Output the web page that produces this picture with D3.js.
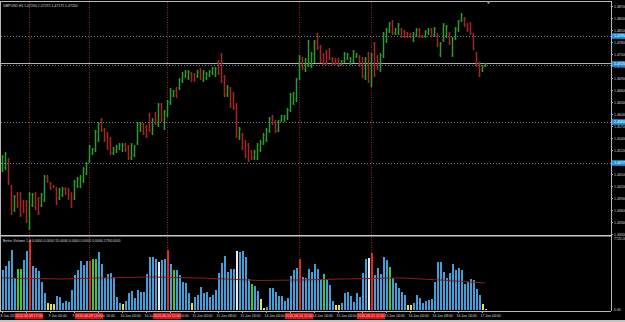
<!DOCTYPE html>
<html>
<head>
<meta charset="utf-8">
<script src="https://cdn.jsdelivr.net/npm/d3@7"></script>
<style>
body{margin:0;background:#000;overflow:hidden}
svg{display:block}
text{font-family:"Liberation Sans",Arial,sans-serif}
</style>
</head>
<body>
<div id="chart"></div>
<script>
const symbolTitle = "GBPUSD,H1  1.47200 1.47275 1.47175 1.47250";
const volumeTitle = "Better Volume 1.4 0.0000 0.0000 55.0000 0.0000 0.0000 0.0000 1794.0000";

const open = [
  1.446,1.4465,1.4485,1.44175,1.436,1.44,1.44,1.438,1.438,1.4315,
  1.43725,1.44,1.43875,1.43725,1.4385,1.44425,1.4425,1.442,1.44125,1.439,
  1.43975,1.44125,1.441,1.44,1.439,1.442,1.442,1.44325,1.44525,1.44825,
  1.45,1.451,1.4535,1.4585,1.456,1.455,1.45375,1.45025,1.45075,1.4515,
  1.451,1.45225,1.45175,1.449,1.44975,1.45275,1.456,1.45725,1.45675,1.45975,
  1.45525,1.46,1.45725,1.46225,1.4565,1.45975,1.46275,1.4645,1.46625,1.4665,
  1.46825,1.4695,1.469,1.47,1.46975,1.4695,1.471,1.4685,1.469,1.46975,
  1.47025,1.46975,1.473,1.47475,1.46925,1.46475,1.46625,1.465,1.46225,1.454,
  1.45475,1.453,1.45225,1.4505,1.449,1.449,1.451,1.45275,1.4535,1.45575,
  1.45925,1.458,1.456,1.4585,1.45875,1.459,1.461,1.46275,1.4635,1.469,
  1.47375,1.471,1.47225,1.472,1.47325,1.47975,1.47675,1.47475,1.4755,1.476,
  1.47375,1.4735,1.4735,1.4725,1.47325,1.474,1.47275,1.47325,1.47425,1.47425,
  1.47375,1.469,1.475,1.46725,1.4775,1.47425,1.471,1.4745,1.47825,1.48075,
  1.483,1.48025,1.48025,1.481,1.4805,1.48025,1.48,1.4785,1.47975,1.481,
  1.4795,1.4795,1.48025,1.481,1.47975,1.47975,1.47475,1.4785,1.4795,1.48,
  1.47475,1.479,1.481,1.4835,1.48375,1.48225,1.4825,1.47975,1.475,1.4725,
  1.471,1.472];
const high = [
  1.44975,1.4505,1.449,1.44225,1.43975,1.4405,1.4405,1.4385,1.4385,1.4405,
  1.44025,1.4405,1.43925,1.44025,1.44475,1.44475,1.443,1.44225,1.44175,1.4415,
  1.44175,1.44175,1.4415,1.4405,1.4435,1.44425,1.44475,1.44675,1.448,1.45225,
  1.4515,1.456,1.458,1.459,1.4565,1.4555,1.45425,1.45175,1.45225,1.45275,
  1.45275,1.45275,1.45225,1.45275,1.45225,1.458,1.458,1.45775,1.45725,1.46025,
  1.459,1.4605,1.46275,1.46275,1.461,1.4635,1.4665,1.466,1.46675,1.469,
  1.4705,1.471,1.471,1.4705,1.47025,1.471,1.4715,1.471,1.4705,1.471,
  1.47175,1.47175,1.4735,1.47525,1.46975,1.46725,1.46675,1.4655,1.46275,1.45675,
  1.45525,1.4535,1.45275,1.451,1.451,1.45275,1.4535,1.45525,1.4565,1.45925,
  1.45975,1.4585,1.4585,1.45975,1.45975,1.4615,1.46525,1.4655,1.469,1.47475,
  1.47425,1.474,1.4785,1.4755,1.4785,1.48025,1.47725,1.47525,1.476,1.4765,
  1.47425,1.474,1.474,1.4735,1.4755,1.47525,1.47425,1.476,1.47525,1.47475,
  1.47425,1.47425,1.4755,1.47525,1.478,1.47475,1.47525,1.4805,1.4815,1.483,
  1.4835,1.4815,1.48275,1.4815,1.481,1.4805,1.48025,1.4805,1.4815,1.4815,
  1.47975,1.481,1.4815,1.4815,1.48175,1.48025,1.478,1.48275,1.48225,1.4805,
  1.47925,1.48175,1.4835,1.48525,1.48425,1.48275,1.483,1.48025,1.4755,1.473,
  1.47225,1.47275];
const low = [
  1.4455,1.446,1.44225,1.43475,1.4355,1.4365,1.43425,1.43525,1.43275,1.431,
  1.43675,1.436,1.43475,1.43675,1.438,1.44275,1.441,1.4415,1.43725,1.4385,
  1.43925,1.43975,1.4385,1.4365,1.4385,1.4415,1.4415,1.44275,1.44475,1.44775,
  1.44975,1.4505,1.453,1.4555,1.453,1.451,1.44975,1.44975,1.45025,1.451,
  1.4505,1.4505,1.4485,1.4485,1.44925,1.45225,1.4555,1.45475,1.454,1.4555,
  1.45475,1.45725,1.45675,1.458,1.456,1.45925,1.46225,1.46425,1.464,1.466,
  1.46775,1.469,1.4685,1.468,1.468,1.469,1.4685,1.468,1.4685,1.46925,
  1.46975,1.46925,1.46975,1.46775,1.46425,1.46425,1.4615,1.461,1.454,1.4535,
  1.451,1.449,1.448,1.4485,1.4485,1.4485,1.4505,1.45225,1.453,1.45525,
  1.45725,1.45525,1.4555,1.458,1.458,1.4585,1.4605,1.46225,1.463,1.4685,
  1.471,1.4705,1.47175,1.4715,1.47275,1.476,1.47275,1.47225,1.47225,1.4735,
  1.47225,1.47225,1.47175,1.47225,1.47275,1.4735,1.47225,1.47275,1.474,1.47175,
  1.469,1.4685,1.46775,1.46675,1.46925,1.471,1.4705,1.474,1.47775,1.48025,
  1.47975,1.47975,1.47975,1.479,1.479,1.479,1.479,1.478,1.47925,1.479,
  1.479,1.479,1.47975,1.47925,1.47925,1.47675,1.47425,1.478,1.479,1.47725,
  1.47425,1.4785,1.4805,1.483,1.48175,1.4805,1.47975,1.476,1.47175,1.46925,
  1.4705,1.47175];
const close = [
  1.44925,1.45,1.44275,1.43525,1.43925,1.437,1.43475,1.43575,1.43325,1.44,
  1.43975,1.4365,1.43525,1.43975,1.44425,1.44325,1.4415,1.44175,1.43775,1.441,
  1.44125,1.44025,1.439,1.437,1.443,1.44375,1.44425,1.44625,1.4475,1.45175,
  1.45125,1.4555,1.4575,1.456,1.4535,1.4515,1.45025,1.45125,1.45175,1.45225,
  1.45225,1.451,1.449,1.45225,1.45175,1.4575,1.4575,1.45525,1.4545,1.456,
  1.4585,1.45775,1.46225,1.4585,1.4605,1.463,1.466,1.46575,1.4645,1.4685,
  1.47,1.4705,1.4705,1.4685,1.4685,1.4705,1.469,1.4705,1.47,1.4705,
  1.47125,1.47125,1.47025,1.46825,1.46475,1.46675,1.462,1.4615,1.4545,1.45625,
  1.4515,1.4495,1.4485,1.449,1.4505,1.45225,1.453,1.45475,1.456,1.45875,
  1.45775,1.45575,1.458,1.45925,1.4595,1.461,1.46475,1.465,1.4685,1.47425,
  1.4715,1.4735,1.478,1.475,1.478,1.4765,1.47325,1.47275,1.47275,1.474,
  1.47275,1.47275,1.47225,1.47325,1.475,1.475,1.47375,1.4755,1.475,1.47225,
  1.4695,1.47375,1.46825,1.47475,1.46975,1.4715,1.47475,1.48,1.481,1.4825,
  1.48025,1.481,1.48225,1.4795,1.4795,1.47925,1.47925,1.48,1.481,1.4795,
  1.47925,1.4805,1.481,1.47975,1.48125,1.47725,1.4775,1.48225,1.48175,1.47775,
  1.47875,1.48125,1.483,1.48475,1.48225,1.481,1.48025,1.4765,1.47225,1.46975,
  1.47175,1.4725];

const volume = [
  4292,4721,5258,6438,3434,4399,4410,5365,6331,7511,
  4721,4507,4185,3004,1824,751,644,630,1502,1395,
  751,966,858,2146,3756,4292,5258,4829,5258,5290,
  5472,5472,6223,4936,3434,3863,3970,3434,1395,751,
  644,966,1824,2039,1288,2146,1931,1931,3863,5687,
  5687,5472,5150,5365,5472,6438,4936,4292,4292,3756,
  3004,2897,1824,751,1395,1610,2468,1824,1931,1395,
  1610,2146,3970,5043,5794,4077,4399,4399,6331,6223,
  6331,5687,3326,2790,2575,2039,1180,215,322,2361,
  2361,1931,1502,1502,966,1288,3648,4292,4507,5472,
  3541,3434,4399,4077,4936,4399,3219,3863,3219,2683,
  966,537,537,751,1824,1931,1502,858,1824,1395,
  3970,5472,5580,6116,3756,4507,3863,5687,5365,4614,
  3434,2897,2361,1931,1610,537,537,751,1610,1288,
  751,966,1073,1180,3004,5150,5150,4077,3434,3970,
  4936,4292,4507,4292,2790,3004,3326,3219,2253,1610,
  644,107];
// n normal, y low, g churn, r climax, w climax low
const volumeKind = (
  "nnnnnggnnr" + "nnnnnyyynn" + "nnnnnnnnnr" + "ggnnnnnnnn" +
  "ynnnnnnnnn" + "nnwnnrngnn" + "nnnynnnnnn" + "nnnnnnnnwn" +
  "nnngnnyynn" + "nnnnnnnnnr" + "nnnnnnngnn" + "nyynnnnnnn" +
  "nnwrnnnnng" + "nnnnnyynnn" + "nnnnnnnnnn" + "nnnnnnnnnn" + "yy").split("");
const avgBar = [0, 20, 33, 49, 66, 86, 99, 113, 133, 146, 161];
const avgVolume = [3434, 3326, 3434, 3541, 3434, 3165, 3219, 3326, 3434, 3219, 2897];

const priceTicks = [1.487,1.484,1.481,1.478,1.475,1.472,1.469,1.466,1.463,1.460,
  1.457,1.454,1.451,1.448,1.445,1.442,1.439,1.436,1.433,1.430];
const levelPrices = [1.4795, 1.47225, 1.458, 1.44775];
const labelledLevels = [1.4795, 1.458, 1.44775];
const bidPrice = 1.4725;

const timeTickBars = d3.range(0, 161, 8);
const timeLabels = ["8 Jun 2010","8 Jun 16:00","9 Jun 00:00","9 Jun 08:00","9 Jun 16:00",
  "10 Jun 00:00","10 Jun 08:00","10 Jun 16:00","11 Jun 00:00","11 Jun 08:00","11 Jun 16:00",
  "14 Jun 00:00","14 Jun 08:00","14 Jun 16:00","15 Jun 00:00","15 Jun 08:00","15 Jun 16:00",
  "16 Jun 00:00","16 Jun 08:00","16 Jun 16:00","17 Jun 00:00"];
const eventBars = [9, 29, 55, 99, 123];
const eventLabels = ["2010.06.08 17:00","2010.06.09 13:00","2010.06.10 15:00","2010.06.14 11:00","2010.06.15 11:00"];

const width = 625, height = 322;
const plotRight = 611, mainBottom = 235, volTop = 238, volBottom = 310;
const fs = 3.5, txt = "#d6d6d6", frame = "#b8b8b8";
const upColor = "#2f9a2f", downColor = "#a52424";
const kindColor = {n: "#419fda", y: "#e6e24a", g: "#3cc83c", r: "#e42828", w: "#ececec"};

let svg = d3.select("#chart").
append("svg").
attr("width", width).
attr("height", height).
style("background", "#000");

const bars = d3.range(open.length);
const x = d3.scaleLinear().domain([0, open.length - 1]).range([2, 485]);
const y = d3.scaleLinear().domain([1.4295, 1.4885]).range([236, 0]);
const yVol = d3.scaleLinear().domain([0, 7725]).range([volBottom, volTop]);

// horizontal level lines
svg.append("g").selectAll("line").
data(levelPrices).
join("line").
attr("x1", 1).attr("x2", plotRight).
attr("y1", d => Math.round(y(d)) + 0.5).attr("y2", d => Math.round(y(d)) + 0.5).
attr("stroke", "#5f8296").
attr("stroke-dasharray", "1,2");

// bid line
svg.append("line").
attr("x1", 1).attr("x2", plotRight).
attr("y1", Math.round(y(bidPrice)) - 0.5).attr("y2", Math.round(y(bidPrice)) - 0.5).
attr("stroke", "#b0b0b0");

// event vertical lines
svg.append("g").selectAll("line").
data(eventBars).
join("line").
attr("x1", d => x(d) + 0.5).attr("x2", d => x(d) + 0.5).
attr("y1", 2).attr("y2", volBottom).
attr("stroke", "#b41e1e").
attr("stroke-dasharray", "1,1.5");

// price bars
let ohlc = svg.append("g").
selectAll("g").
data(bars).
join("g").
attr("stroke", i => close[i] >= open[i] ? upColor : downColor);
ohlc.append("line").
attr("x1", i => x(i) + 0.5).attr("x2", i => x(i) + 0.5).
attr("y1", i => y(high[i])).attr("y2", i => y(low[i])).
attr("stroke-width", 1.5);
ohlc.append("line").
attr("x1", i => x(i) - 0.5).attr("x2", i => x(i) + 0.5).
attr("y1", i => y(open[i])).attr("y2", i => y(open[i]));
ohlc.append("line").
attr("x1", i => x(i) + 0.5).attr("x2", i => x(i) + 1.5).
attr("y1", i => y(close[i])).attr("y2", i => y(close[i]));

// volume bars
svg.append("g").
selectAll("rect").
data(bars).
join("rect").
attr("x", i => x(i)).
attr("width", 2).
attr("y", i => yVol(volume[i])).
attr("height", i => volBottom - yVol(volume[i])).
attr("fill", i => kindColor[volumeKind[i]]);

// volume average line
svg.append("path").
datum(avgBar).
attr("fill", "none").
attr("stroke", "#8e1c1c").
attr("stroke-width", 1).
attr("d", d3.line().x(i => x(i)).y((i, k) => yVol(avgVolume[k])));

// frame
svg.append("line").attr("x1", 0).attr("x2", plotRight).attr("y1", 1.5).attr("y2", 1.5).attr("stroke", frame);
svg.append("line").attr("x1", 0.5).attr("x2", 0.5).attr("y1", 1).attr("y2", volBottom + 1).attr("stroke", frame);
svg.append("line").attr("x1", plotRight + 0.5).attr("x2", plotRight + 0.5).attr("y1", 1).attr("y2", volBottom + 1).attr("stroke", frame);
svg.append("rect").attr("x", 0).attr("y", mainBottom).attr("width", plotRight + 1).attr("height", 1.5).attr("fill", "#c8c8c8");
svg.append("line").attr("x1", 0).attr("x2", plotRight).attr("y1", volBottom + 1.5).attr("y2", volBottom + 1.5).attr("stroke", frame);
svg.append("rect").attr("x", 0).attr("y", 320).attr("width", width).attr("height", 2).attr("fill", "#c4c4c4");
svg.append("path").attr("d", "M486,1 L491,1 L488.5,4 Z").attr("fill", "#a0a0a0");

// price axis
let priceAxis = svg.append("g").
attr("transform", "translate(" + plotRight + ",0)").
call(d3.axisRight(y).tickValues(priceTicks).tickFormat(d3.format(".5f")).tickSize(2).tickPadding(1));
priceAxis.select(".domain").remove();
priceAxis.selectAll("line").attr("stroke", frame);
priceAxis.selectAll("text").attr("fill", txt).attr("font-size", fs).attr("font-family", "Liberation Sans");

// blue level labels on axis
let tags = svg.append("g").
selectAll("g").
data(labelledLevels.concat([bidPrice])).
join("g").
attr("transform", d => "translate(" + (plotRight + 1) + "," + y(d) + ")");
tags.append("rect").attr("x", 0).attr("y", -2.8).attr("width", 14).attr("height", 5.6).attr("fill", "#1e96dc");
tags.append("text").attr("x", 2).attr("y", 1.3).attr("fill", "#f4fbff").attr("font-size", fs).text(d => d.toFixed(5));

// volume axis labels
svg.append("text").attr("x", 614).attr("y", volTop + 2).attr("fill", txt).attr("font-size", fs).text("7725.00");
svg.append("text").attr("x", 614).attr("y", volBottom + 1).attr("fill", txt).attr("font-size", fs).text("0.00");

// time axis
let timeAxis = svg.append("g").
attr("transform", "translate(0," + (volBottom + 1) + ")").
call(d3.axisBottom(x).tickValues(timeTickBars).tickFormat((d, i) => timeLabels[i]).tickSize(2).tickPadding(1));
timeAxis.select(".domain").remove();
timeAxis.selectAll("line").attr("stroke", frame);
timeAxis.selectAll("text").
attr("fill", txt).
attr("font-size", fs).
attr("font-family", "Liberation Sans").
attr("text-anchor", "start").
attr("dx", -2).
attr("dy", "0.9em");

// event labels on time axis
let ev = svg.append("g").
selectAll("g").
data(eventBars).
join("g").
attr("transform", d => "translate(" + x(d) + "," + (volBottom + 3) + ")");
ev.append("rect").attr("x", -14).attr("y", 0).attr("width", 28).attr("height", 6).attr("fill", "#e01010");
ev.append("text").attr("x", 0).attr("y", 4.3).attr("text-anchor", "middle").attr("fill", "#ffd8d8").attr("font-size", fs).
text((d, i) => eventLabels[i]);

// titles
svg.append("text").attr("x", 3).attr("y", 6.5).attr("fill", txt).attr("font-size", fs).text(symbolTitle);
svg.append("text").attr("x", 3).attr("y", 241.5).attr("fill", txt).attr("font-size", fs).text(volumeTitle);
</script>
</body>
</html>
